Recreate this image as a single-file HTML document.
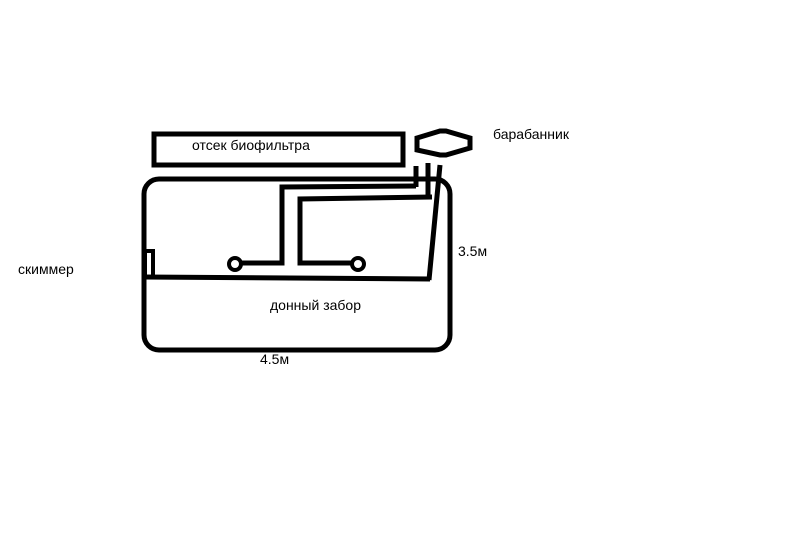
<!DOCTYPE html>
<html><head><meta charset="utf-8"><style>
html,body{margin:0;padding:0;background:#fff;}
svg{display:block;}
text{font-family:"Liberation Sans","DejaVu Sans",sans-serif;font-size:14px;fill:#000;}
</style></head><body>
<svg width="796" height="556" viewBox="0 0 796 556" xmlns="http://www.w3.org/2000/svg">
<g fill="none" stroke="#000" stroke-width="5">
<rect x="154" y="134" width="249" height="31"/>
<rect x="144" y="179" width="306" height="171" rx="15"/>
<polygon points="417,138 440,131 446,131 470,138 470,148 446,155 440,155 417,150"/>
<line x1="416" y1="166" x2="416" y2="187"/>
<line x1="428" y1="163" x2="428" y2="196"/>
<line x1="440" y1="165" x2="429" y2="280"/>
<polyline points="416,186 282,187 282,263 240,263"/>
<polyline points="432,197 300,199 300,263 352,263"/>
<line x1="143" y1="277" x2="430" y2="279"/>
<rect x="145" y="251" width="8" height="26" stroke-width="4"/>
</g>
<g fill="#fff" stroke="#000" stroke-width="4">
<circle cx="235" cy="264" r="6"/>
<circle cx="358" cy="264" r="6"/>
</g>
<text x="192" y="150">отсек биофильтра</text>
<text x="493" y="139">барабанник</text>
<text x="458" y="256">3.5м</text>
<text x="18" y="274">скиммер</text>
<text x="270" y="310">донный забор</text>
<text x="260" y="364">4.5м</text>
</svg>
</body></html>
